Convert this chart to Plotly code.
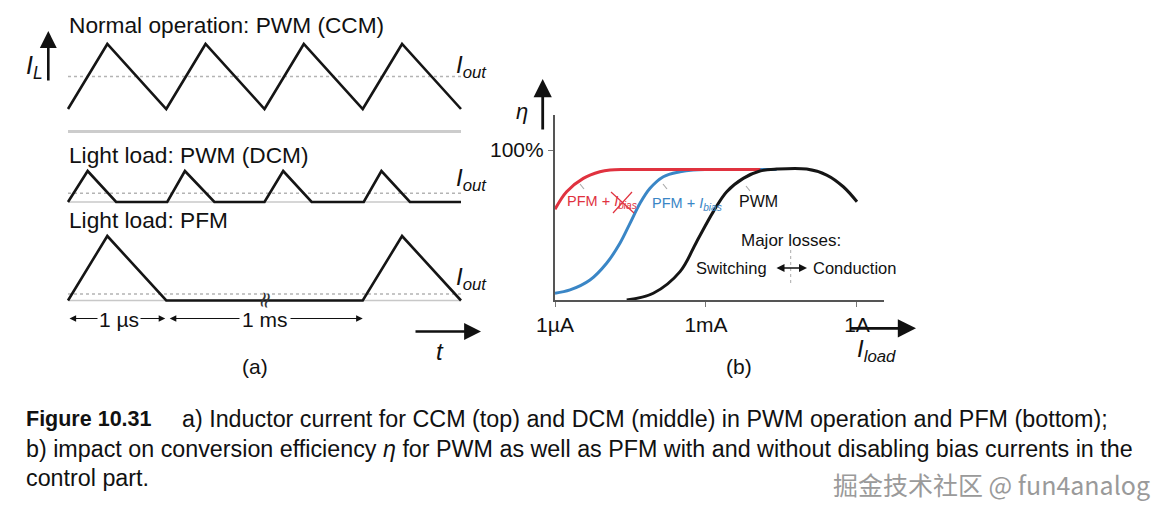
import plotly.graph_objects as go

# page is rendered inside a body with an 8px margin; size the figure to fit the window
OFF = 8
W, H = 1167 - OFF, 515 - OFF
SANS = "Liberation Sans, Arial, sans-serif"

# ---------------- data : panel (a) inductor current waveforms ----------------
# time in switching periods (schematic), current in arbitrary units
ccm_t = [0, 0.4, 1.0, 1.4, 2.0, 2.4, 3.0, 3.4, 4.0]
ccm_i = [0.5, 1.5, 0.5, 1.5, 0.5, 1.5, 0.5, 1.5, 0.5]
ccm_iout = 1.0

dcm_t = [0, 0.2, 0.49, 1.01, 1.19, 1.49, 2.0, 2.19, 2.48, 3.01, 3.19, 3.48, 4.0]
dcm_i = [0, 1, 0, 0, 1, 0, 0, 1, 0, 0, 1, 0, 0]
dcm_iout = 0.28

pfm_t = [0, 0.4, 1.0, 3.0, 3.4, 4.0]
pfm_i = [0, 1, 0, 0, 1, 0]
pfm_iout = 0.1

t_span = [0, 4.0]

# ---------------- data : panel (b) efficiency vs load current ----------------
red_I = [1e-6, 1.7e-6, 3.65e-6, 7.8e-6, 1.24e-5, 2.5e-5, 1e-4, 7.6e-4, 1.2e-2]
red_eta = [60.5, 72.2, 81.1, 85.5, 86.7, 87, 87, 87, 87]

blue_I = [1e-6, 1.99e-6, 4.95e-6, 1.06e-5, 1.95e-5, 3.09e-5, 4.89e-5, 7.73e-5,
          1.42e-4, 3.05e-4, 5.52e-4, 1.2e-3, 2.54e-2]
blue_eta = [4.5, 6.7, 13.3, 24.5, 37.8, 51.1, 64.5, 74.5, 82.2, 85.5, 86.7, 87, 87]

pwm_I = [2.66e-5, 8.97e-5, 3.05e-4, 6.53e-4, 1.40e-3, 2.58e-3, 5.5e-3, 1.18e-2,
         2.54e-2, 0.1, 0.25, 0.535, 1.0]
pwm_eta = [0, 4.5, 18.9, 38.9, 58.9, 72.2, 81.1, 86, 87.3, 87.3, 83.3, 75.5, 65.5]

load_tickvals = [1e-6, 1e-3, 1]
load_ticktext = ["1µA", "1mA", "1A"]
eta_tickvals = [100]
eta_ticktext = ["100%"]

# ---------------- helpers (positions given in window pixels) ----------------
def px(x):
    return (x - OFF) / W


def py(y):
    return 1 - (y - OFF) / H


def lin_x(va, pa, vb, pb, plo, phi):
    k = (vb - va) / (pb - pa)
    return dict(domain=[px(plo), px(phi)], range=[va + (plo - pa) * k, va + (phi - pa) * k])


def lin_y(va, pa, vb, pb, plo, phi):
    k = (vb - va) / (pb - pa)
    return dict(domain=[py(phi), py(plo)], range=[va + (phi - pa) * k, va + (plo - pa) * k])


hidden = dict(visible=False, showgrid=False, zeroline=False, fixedrange=True)

fig = go.Figure()

BLACK = "#151515"
DOT = "#b4b4b4"
BASE = "#c8c8c8"

# CCM
fig.add_trace(go.Scatter(x=t_span, y=[ccm_iout] * 2, xaxis="x", yaxis="y", mode="lines",
                         line=dict(color=DOT, width=1.6, dash="dot"), hoverinfo="skip"))
fig.add_trace(go.Scatter(x=ccm_t, y=ccm_i, xaxis="x", yaxis="y", mode="lines",
                         line=dict(color=BLACK, width=2.6), hoverinfo="skip"))
# DCM
fig.add_trace(go.Scatter(x=t_span, y=[0, 0], xaxis="x", yaxis="y2", mode="lines",
                         line=dict(color=BASE, width=1.6), hoverinfo="skip"))
fig.add_trace(go.Scatter(x=t_span, y=[dcm_iout] * 2, xaxis="x", yaxis="y2", mode="lines",
                         line=dict(color=DOT, width=1.4, dash="dot"), hoverinfo="skip"))
fig.add_trace(go.Scatter(x=dcm_t, y=dcm_i, xaxis="x", yaxis="y2", mode="lines",
                         line=dict(color=BLACK, width=2.6), hoverinfo="skip"))
# PFM
fig.add_trace(go.Scatter(x=t_span, y=[0, 0], xaxis="x", yaxis="y3", mode="lines",
                         line=dict(color=BASE, width=1.6), hoverinfo="skip"))
fig.add_trace(go.Scatter(x=t_span, y=[pfm_iout] * 2, xaxis="x", yaxis="y3", mode="lines",
                         line=dict(color=DOT, width=1.4, dash="dot"), hoverinfo="skip"))
fig.add_trace(go.Scatter(x=pfm_t, y=pfm_i, xaxis="x", yaxis="y3", mode="lines",
                         line=dict(color=BLACK, width=2.6), hoverinfo="skip"))

# panel (b)
RED = "#e0323f"
BLUE = "#3a86c6"
fig.add_trace(go.Scatter(x=blue_I, y=blue_eta, xaxis="x2", yaxis="y4", mode="lines",
                         line=dict(color=BLUE, width=3, shape="spline", smoothing=1.0),
                         hoverinfo="skip"))
fig.add_trace(go.Scatter(x=red_I, y=red_eta, xaxis="x2", yaxis="y4", mode="lines",
                         line=dict(color=RED, width=3, shape="spline", smoothing=1.0),
                         hoverinfo="skip"))
fig.add_trace(go.Scatter(x=pwm_I, y=pwm_eta, xaxis="x2", yaxis="y4", mode="lines",
                         line=dict(color=BLACK, width=3, shape="spline", smoothing=1.0),
                         hoverinfo="skip"))

# ---------------- axes ----------------
xa = lin_x(0, 68, 4, 461, 58, 472)
ya = lin_y(0.5, 109, 1.5, 44, 30, 125)
ya2 = lin_y(0, 202, 1, 171, 160, 215)
ya3 = lin_y(0, 300.5, 1, 236, 225, 312)

log_lo = -6
log_hi = -6 + (884 - 555) / 50.33

layout = dict(
    width=W, height=H, autosize=False,
    margin=dict(l=0, r=0, t=0, b=0, pad=0, autoexpand=False),
    paper_bgcolor="white", plot_bgcolor="rgba(0,0,0,0)",
    showlegend=False,
    font=dict(family=SANS, color="#111"),
    xaxis=dict(**hidden, **xa, anchor="y"),
    yaxis=dict(**hidden, **ya, anchor="x"),
    yaxis2=dict(**hidden, **ya2, anchor="x"),
    yaxis3=dict(**hidden, **ya3, anchor="x"),
    xaxis2=dict(type="log", range=[log_lo, log_hi], domain=[px(555), px(884)], anchor="y4",
                showgrid=False, zeroline=False, showline=True, linecolor="#555", linewidth=2.2,
                tickvals=load_tickvals, ticktext=load_ticktext, ticks="outside", ticklen=5,
                tickwidth=1.2, tickcolor="#777", tickfont=dict(size=21, color="#111"),
                fixedrange=True),
    yaxis4=dict(range=[0, (300 - 115) / 1.5], domain=[py(300), py(115)], anchor="x2",
                showgrid=False, zeroline=False, showline=True, linecolor="#555", linewidth=2.2,
                tickvals=eta_tickvals, ticktext=eta_ticktext, ticks="outside", ticklen=5,
                tickwidth=1.2, tickcolor="#777", tickfont=dict(size=21, color="#111"),
                fixedrange=True),
)
fig.update_layout(**layout)

ann = []


def text(x, y, s, size, color="#111", xanchor="left", yanchor="middle", family=SANS, **kw):
    ann.append(dict(x=px(x), y=py(y), xref="paper", yref="paper", text=s, showarrow=False,
                    xanchor=xanchor, yanchor=yanchor, font=dict(size=size, color=color, family=family),
                    **kw))


def arrow(xt, yt, xs, ys, width=2.6, head=2, size=1.0, color="#111", both=False):
    ann.append(dict(x=px(xt), y=py(yt), xref="paper", yref="paper", text="", showarrow=True,
                    ax=xs - xt, ay=ys - yt, axref="pixel", ayref="pixel",
                    arrowhead=head, arrowsize=size, arrowwidth=width, arrowcolor=color,
                    arrowside="end+start" if both else "end", startarrowhead=head,
                    startarrowsize=size, standoff=0, startstandoff=0))


# panel (a) texts
text(67, 25, "Normal operation: PWM (CCM)", 22.7)
text(67, 155, "Light load: PWM (DCM)", 22.7)
text(67, 220, "Light load: PFM", 22.7)
text(24, 67, "<i>I</i><sub><i>L</i></sub>", 25)
arrow(48.3, 31, 48.3, 82, width=2.6, head=2, size=1.3)
for yy in (66, 180, 278):
    text(454, yy, "<i>I</i><sub><i>out</i></sub>", 24)

# divider between CCM and DCM
shapes = [dict(type="line", xref="paper", yref="paper", x0=px(68), x1=px(461), y0=py(131.5),
               y1=py(131.5), line=dict(color="#cccccc", width=3))]

# dimension arrows (1 us, 1 ms) built from PFM timing
ann.append(dict(x=pfm_t[2] - 0.01, y=py(318.5), xref="x", yref="paper", ax=pfm_t[0], ay=0,
                axref="x", ayref="pixel", text="", showarrow=True, arrowhead=2, arrowsize=1.1,
                arrowwidth=1.2, arrowcolor="#111", arrowside="end+start", startarrowhead=2,
                startarrowsize=1.1, standoff=0, startstandoff=0))
ann.append(dict(x=pfm_t[3], y=py(318.5), xref="x", yref="paper", ax=pfm_t[2] + 0.02, ay=0,
                axref="x", ayref="pixel", text="", showarrow=True, arrowhead=2, arrowsize=1.1,
                arrowwidth=1.2, arrowcolor="#111", arrowside="end+start", startarrowhead=2,
                startarrowsize=1.1, standoff=0, startstandoff=0))
ann.append(dict(x=(pfm_t[0] + pfm_t[2]) / 2 + 0.02, y=py(319), xref="x", yref="paper", text="1 µs",
                showarrow=False, bgcolor="white", font=dict(size=21, color="#111", family=SANS),
                xanchor="center", yanchor="middle", borderpad=1))
ann.append(dict(x=(pfm_t[2] + pfm_t[3]) / 2, y=py(319), xref="x", yref="paper", text="1 ms",
                showarrow=False, bgcolor="white", font=dict(size=21, color="#111", family=SANS),
                xanchor="center", yanchor="middle", borderpad=2))
# break mark on PFM idle time
ann.append(dict(x=(pfm_t[2] + pfm_t[3]) / 2, y=0, xref="x", yref="y3", text="≈", textangle=-75,
                showarrow=False, font=dict(size=22, color="#333", family="DejaVu Sans"),
                xanchor="center", yanchor="middle"))

arrow(481, 331.5, 414, 331.5, width=2.6, head=2, size=1.3)
text(440, 351, "<i>t</i>", 24, xanchor="center")
text(255, 366, "(a)", 21, xanchor="center")

# panel (b) texts
arrow(542.7, 79, 542.7, 131, width=2.8, head=2, size=1.3)
text(522, 111, "<i>η</i>", 22, xanchor="center")
arrow(916, 328.3, 849, 328.3, width=2.8, head=2, size=1.3)
text(855, 350, "<i>I</i><sub><i>load</i></sub>", 24)
text(739, 366, "(b)", 21, xanchor="center")

text(565, 202, "PFM + <i>I</i><sub><i>bias</i></sub>", 14.5, color=RED)
text(650, 203.5, "PFM + <i>I</i><sub><i>bias</i></sub>", 14.5, color=BLUE)
text(737, 202, "PWM", 16)
text(739, 240, "Major losses:", 17)
text(769, 267.5, "Switching", 16.5, xanchor="right")
text(811, 267.5, "Conduction", 16.5)
arrow(807, 268, 775, 268, width=1.6, head=2, size=1.0, both=True)

shapes += [
    dict(type="line", xref="paper", yref="paper", x0=px(790.7), x1=px(790.7), y0=py(250), y1=py(283),
         line=dict(color="#aaaaaa", width=1, dash="dot")),
    # crossed-out bias
    dict(type="line", xref="paper", yref="paper", x0=px(611), x1=px(634), y0=py(192), y1=py(213),
         line=dict(color=RED, width=1.2)),
    dict(type="line", xref="paper", yref="paper", x0=px(613), x1=px(632), y0=py(213), y1=py(192),
         line=dict(color=RED, width=1.2)),
    # small leader marks
    dict(type="line", xref="paper", yref="paper", x0=px(580), x1=px(584), y0=py(184), y1=py(189),
         line=dict(color="#aaaaaa", width=1.2)),
    dict(type="line", xref="paper", yref="paper", x0=px(663), x1=px(667), y0=py(184), y1=py(189),
         line=dict(color="#aaaaaa", width=1.2)),
    dict(type="line", xref="paper", yref="paper", x0=px(746), x1=px(750), y0=py(186), y1=py(191),
         line=dict(color="#aaaaaa", width=1.2)),
]

# caption
text(24, 419, "<b>Figure 10.31</b>", 21.5)
text(180, 419, "a) Inductor current for CCM (top) and DCM (middle) in PWM operation and PFM (bottom);", 23.3)
text(24, 449, "b) impact on conversion efficiency <i>η</i> for PWM as well as PFM with and without "
              "disabling bias currents in the", 23.3)
text(24, 478, "control part.", 23.3)

# watermark
text(1152, 484, "掘金技术社区 @ fun4analog", 25, color="#9a9a9a", xanchor="right",
     family="Noto Sans CJK SC, Liberation Sans, sans-serif")

fig.update_layout(annotations=ann, shapes=shapes)
fig.write_html("out.html")
